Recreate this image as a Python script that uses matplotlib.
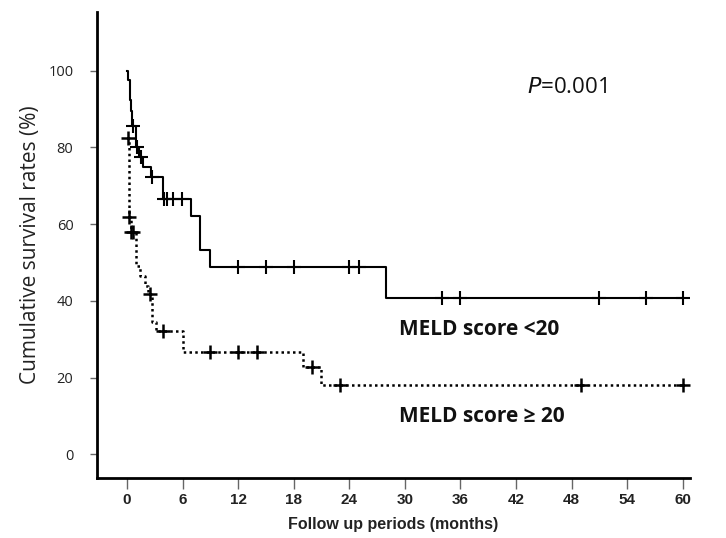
import matplotlib
matplotlib.use("Agg")
import matplotlib.pyplot as plt
import numpy as np

# MELD score < 20 (solid): step times (months) and survival (%) after each step
low_t = [0, 0.14, 0.29, 0.43, 0.58, 1.0, 1.3, 1.76, 2.6, 3.92, 6.87, 7.9, 9.0, 28.0, 60.0]
low_s = [100, 97.5, 92.4, 89.5, 85.6, 80.1, 77.5, 75.0, 72.4, 66.5, 62.2, 53.3, 48.9, 40.8, 40.8]
low_cens = [0.62, 1.04, 1.48, 2.73, 3.95, 4.28, 5.0, 5.9, 12.0, 15.0, 18.0, 24.0, 25.0,
            34.0, 36.0, 51.0, 56.0, 60.0]

# MELD score >= 20 (dotted); its first drop from 100 is hidden under the solid line
high_t = [0, 0.2, 0.4, 0.93, 1.4, 1.94, 2.25, 2.73, 3.1, 6.0, 19.0, 21.0, 60.0]
high_s = [82.5, 61.9, 58.0, 49.1, 46.5, 44.0, 41.7, 34.6, 32.1, 26.7, 22.7, 18.0, 18.0]
high_cens = [0.06, 0.22, 0.48, 0.6, 2.48, 3.92, 8.95, 12.0, 14.0, 20.0, 23.0, 49.0, 60.0]

xticks = [0, 6, 12, 18, 24, 30, 36, 42, 48, 54, 60]
yticks = [0, 20, 40, 60, 80, 100]


def surv_at(times, surv, c):
    idx = np.searchsorted(times, c, side="right") - 1
    return np.asarray(surv)[idx]


fig = plt.figure(figsize=(7.26, 5.38), dpi=100)
ax = fig.add_axes([0.1336, 0.1115, 0.8164, 0.8665])

ax.step(low_t, low_s, where="post", color="black", lw=1.5)
ax.plot(low_cens, surv_at(low_t, low_s, low_cens), "+", color="black", ms=10, mew=1.5)

ax.step(high_t, high_s, where="post", color="black", lw=1.8, linestyle=(0, (1, 1.3)))
ax.plot(high_cens, surv_at(high_t, high_s, high_cens), "+", color="black", ms=10, mew=1.8)

ax.set_xlim(-3.24, 60.76)
ax.set_ylim(-6.14, 115.3)

for side in ["top", "right"]:
    ax.spines[side].set_visible(False)
for side in ["left", "bottom"]:
    ax.spines[side].set_linewidth(2)

ax.set_xticks(xticks)
ax.set_yticks(yticks)
ax.tick_params(axis="both", direction="out", width=1, color="#666666")
ax.tick_params(axis="y", length=5, pad=12)
ax.tick_params(axis="x", length=8, pad=3)

sans = ["Open Sans", "DejaVu Sans"]
bold = ["Liberation Sans Narrow", "Liberation Sans", "DejaVu Sans"]
for lab in ax.get_yticklabels():
    lab.set_family(sans)
    lab.set_fontsize(10.5)
    lab.set_color("#222222")
for lab in ax.get_xticklabels():
    lab.set_family(bold)
    lab.set_fontweight("bold")
    lab.set_fontsize(11)
    lab.set_color("#222222")

ax.set_ylabel("Cumulative survival rates (%)", family=sans, fontsize=15,
              color="#222222", labelpad=5)
ax.set_xlabel("Follow up periods (months)", family=bold, fontweight="bold",
              fontsize=11.5, color="#222222", labelpad=7)

ax.text(0.725, 0.837, "$\\mathit{P}$=0.001", transform=ax.transAxes, family=sans,
        fontsize=16, color="#111111", va="center")
ax.text(0.509, 0.318, "MELD score <20", transform=ax.transAxes, family=sans,
        fontsize=15, fontweight="bold", color="#111111", va="center")
ax.text(0.509, 0.131, "MELD score \u2265 20", transform=ax.transAxes, family=sans,
        fontsize=15, fontweight="bold", color="#111111", va="center")

fig.savefig("out.png", dpi=100)
